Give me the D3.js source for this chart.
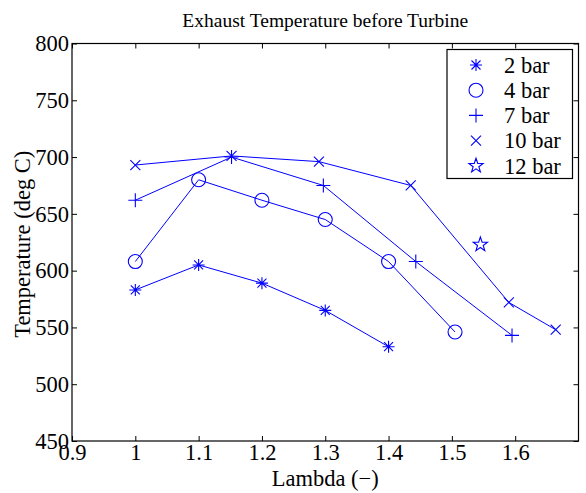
<!DOCTYPE html>
<html>
<head>
<meta charset="utf-8">
<script src="https://cdn.jsdelivr.net/npm/d3@7"></script>
<style>
  html, body { margin: 0; padding: 0; background: #fff; }
  text { font-family: "Liberation Serif", "Times New Roman", serif; }
</style>
</head>
<body>
<svg id="chart" width="586" height="493"></svg>
<script>
// ---- data ----
const seriesNames = ["2 bar", "4 bar", "7 bar", "10 bar", "12 bar"];
const symbols = ["asterisk", "circle", "plus", "cross", "star"];
const lambda2 = [1.0, 1.1, 1.2, 1.3, 1.40];
const temp2 = [583, 605, 589, 565, 533];
const lambda4 = [1.0, 1.1, 1.2, 1.3, 1.40, 1.505];
const temp4 = [608, 680, 662, 645, 608, 546];
const lambda7 = [1.0, 1.152, 1.297, 1.443, 1.595];
const temp7 = [662, 700, 675, 608, 543];
const lambda10 = [1.0, 1.152, 1.29, 1.435, 1.59, 1.664];
const temp10 = [693, 701, 696, 675, 572, 548];
const lambda12 = [1.545];
const temp12 = [623];
const xTicks = [0.9, 1, 1.1, 1.2, 1.3, 1.4, 1.5, 1.6];
const yTicks = [450, 500, 550, 600, 650, 700, 750, 800];

const series = [
  {name: seriesNames[0], sym: symbols[0], xs: lambda2, ys: temp2, line: true},
  {name: seriesNames[1], sym: symbols[1], xs: lambda4, ys: temp4, line: true},
  {name: seriesNames[2], sym: symbols[2], xs: lambda7, ys: temp7, line: true},
  {name: seriesNames[3], sym: symbols[3], xs: lambda10, ys: temp10, line: true},
  {name: seriesNames[4], sym: symbols[4], xs: lambda12, ys: temp12, line: false}
];

const blue = "#0000ff";
const W = 586, H = 493;
const m = {left: 72, right: 7.5, top: 43.5, bottom: 52};
const iw = W - m.left - m.right, ih = H - m.top - m.bottom;

const svg = d3.select("#chart");
const g = svg.append("g").attr("transform", `translate(${m.left},${m.top})`);

const x = d3.scaleLinear().domain([0.9, 1.7]).range([0, iw]);
const y = d3.scaleLinear().domain([450, 800]).range([ih, 0]);

const fs = 22.5;
const tickLen = 5;

// axes
const xAxis = g.append("g").attr("transform", `translate(0,${ih})`)
  .call(d3.axisBottom(x).tickValues(xTicks).tickSize(-tickLen).tickPadding(4).tickFormat(d3.format("")));
const yAxis = g.append("g")
  .call(d3.axisLeft(y).tickValues(yTicks).tickSize(-tickLen).tickPadding(3).tickFormat(d3.format("")));
const xTop = g.append("g")
  .call(d3.axisTop(x).tickValues(xTicks).tickSize(-tickLen).tickFormat(""));
const yRight = g.append("g").attr("transform", `translate(${iw},0)`)
  .call(d3.axisRight(y).tickValues(yTicks).tickSize(-tickLen).tickFormat(""));

[xAxis, yAxis, xTop, yRight].forEach(a => {
  a.select(".domain").remove();
  a.selectAll("line").attr("stroke", "#000").attr("stroke-width", 1);
  a.selectAll("text").attr("font-size", fs).attr("fill", "#000")
    .style("font-family", '"Liberation Serif", serif');
});
xAxis.selectAll("text").attr("dy", "0.68em");
yAxis.selectAll("text").attr("dy", "0.32em");

g.append("rect").attr("x", 0).attr("y", 0).attr("width", iw).attr("height", ih)
  .attr("fill", "none").attr("stroke", "#000").attr("stroke-width", 1.2);

// marker drawing
function drawMarker(sel, sym, cx, cy) {
  const s = sel.append("g").attr("transform", `translate(${cx},${cy})`)
    .attr("fill", "none").attr("stroke", blue).attr("stroke-width", 1.1);
  if (sym === "asterisk") {
    const r = 6, d = 4.5;
    s.append("path").attr("d", `M${-r},0H${r}M0,${-r}V${r}M${-d},${-d}L${d},${d}M${-d},${d}L${d},${-d}`);
  } else if (sym === "circle") {
    s.append("circle").attr("r", 7);
  } else if (sym === "plus") {
    const r = 7;
    s.append("path").attr("d", `M${-r},0H${r}M0,${-r}V${r}`);
  } else if (sym === "cross") {
    const d = 5;
    s.append("path").attr("d", `M${-d},${-d}L${d},${d}M${-d},${d}L${d},${-d}`);
  } else if (sym === "star") {
    const R = 7.5, r = R * 0.4;
    const pts = d3.range(10).map(i => {
      const a = -Math.PI / 2 + i * Math.PI / 5;
      const rr = i % 2 === 0 ? R : r;
      return [rr * Math.cos(a), rr * Math.sin(a)];
    });
    s.append("path").attr("d", d3.line()(pts) + "Z");
  }
}

const line = d3.line().x(d => x(d[0])).y(d => y(d[1]));
const plot = g.append("g");
series.forEach(sr => {
  const pts = sr.xs.map((v, i) => [v, sr.ys[i]]);
  if (sr.line) {
    plot.append("path").attr("d", line(pts)).attr("fill", "none")
      .attr("stroke", blue).attr("stroke-width", 1);
  }
  pts.forEach(p => drawMarker(plot, sr.sym, x(p[0]), y(p[1])));
});

// legend
const lg = g.append("g").attr("transform", `translate(${iw - 6},6)`);
const lw = 125.5, lh = 129, rowH = 25.2;
lg.append("rect").attr("x", -lw).attr("y", 0).attr("width", lw).attr("height", lh)
  .attr("fill", "#fff").attr("stroke", "#000").attr("stroke-width", 1.2);
series.forEach((sr, i) => {
  const cy = 15.5 + i * rowH;
  drawMarker(lg, sr.sym, -lw + 29, cy);
  lg.append("text").attr("x", -lw + 57).attr("y", cy).attr("dy", "0.35em")
    .attr("font-size", fs).text(sr.name);
});

// title and labels
svg.append("text").attr("x", m.left + iw / 2).attr("y", 27)
  .attr("text-anchor", "middle").attr("font-size", 19.5)
  .text("Exhaust Temperature before Turbine");
svg.append("text").attr("x", m.left + iw / 2).attr("y", 486)
  .attr("text-anchor", "middle").attr("font-size", fs)
  .text("Lambda (\u2212)");
svg.append("text").attr("transform", `translate(30,${m.top + ih / 2 + 2}) rotate(-90)`)
  .attr("text-anchor", "middle").attr("font-size", fs)
  .text("Temperature (deg C)");
</script>
</body>
</html>
